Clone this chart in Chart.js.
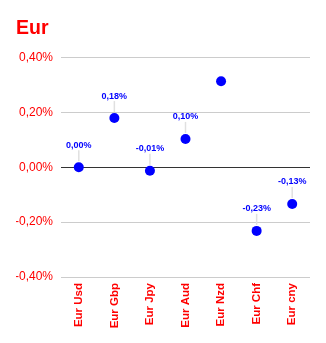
<!DOCTYPE html>
<html>
<head>
<meta charset="utf-8">
<script src="https://cdn.jsdelivr.net/npm/chart.js@4"></script>
<style>
  html, body { margin: 0; padding: 0; background: #fff; }
  #wrap { width: 326px; height: 343px; }
</style>
</head>
<body>
<div id="wrap"><canvas id="chart" width="326" height="343"></canvas></div>
<script>
const categories = ["Eur Usd", "Eur Gbp", "Eur Jpy", "Eur Aud", "Eur Nzd", "Eur Chf", "Eur cny"];
const values = [0.0, 0.179, -0.013, 0.103, 0.313, -0.232, -0.134];
const pointLabels = ["0,00%", "0,18%", "-0,01%", "0,10%", "", "-0,23%", "-0,13%"];
const yTicks = [-0.4, -0.2, 0, 0.2, 0.4];

const FONT = "'Liberation Sans', Arial, sans-serif";

const fmtPct = (v) => v.toFixed(2).replace(".", ",").replace("-0,00", "0,00") + "%";

const labelPlugin = {
  id: "pointLabels",
  afterDatasetsDraw(chart) {
    const ctx = chart.ctx;
    const meta = chart.getDatasetMeta(0);
    ctx.save();
    meta.data.forEach((pt, i) => {
      const text = pointLabels[i];
      if (!text) return;
      ctx.strokeStyle = "#e0e0e0";
      ctx.lineWidth = 1.5;
      ctx.beginPath();
      ctx.moveTo(pt.x, pt.y - 6);
      ctx.lineTo(pt.x, pt.y - 17);
      ctx.stroke();
      ctx.fillStyle = "#0000ff";
      ctx.font = "bold 9px " + FONT;
      ctx.textAlign = "center";
      ctx.textBaseline = "middle";
      ctx.fillText(text, pt.x, pt.y - 22);
    });
    ctx.restore();
  },
};

new Chart(document.getElementById("chart"), {
  type: "line",
  data: {
    labels: categories,
    datasets: [{
      data: values,
      showLine: false,
      pointRadius: 5,
      pointHoverRadius: 5,
      pointBackgroundColor: "#0000ff",
      pointBorderWidth: 0,
      borderColor: "#0000ff",
    }],
  },
  options: {
    responsive: false,
    animation: false,
    events: [],
    layout: { padding: { left: 16, right: 16, top: 0, bottom: 0 } },
    plugins: {
      legend: { display: false },
      tooltip: { enabled: false },
      title: {
        display: true,
        text: "Eur",
        align: "start",
        color: "#ff0000",
        font: { family: FONT, size: 19.5, weight: "bold" },
        padding: { top: 17, bottom: 17 },
      },
    },
    scales: {
      x: {
        offset: true,
        grid: { display: false, drawTicks: false },
        border: { display: false },
        ticks: {
          color: "#ff0000",
          font: { family: FONT, size: 11.5, weight: "bold" },
          minRotation: 90,
          maxRotation: 90,
          padding: 6,
          autoSkip: false,
        },
        afterFit(scale) { scale.height = 66; },
      },
      y: {
        min: -0.4,
        max: 0.4,
        afterBuildTicks(scale) { scale.ticks = yTicks.map((v) => ({ value: v })); },
        grid: {
          drawTicks: false,
          color: (c) => (c.tick && c.tick.value === 0 ? "#333333" : "#cccccc"),
          lineWidth: 1,
        },
        border: { display: false },
        ticks: {
          color: "#ff0000",
          font: { family: FONT, size: 12 },
          padding: 8,
          callback: (v) => fmtPct(v),
        },
        afterFit(scale) { scale.width = 45; },
      },
    },
  },
  plugins: [labelPlugin],
});
</script>
</body>
</html>
